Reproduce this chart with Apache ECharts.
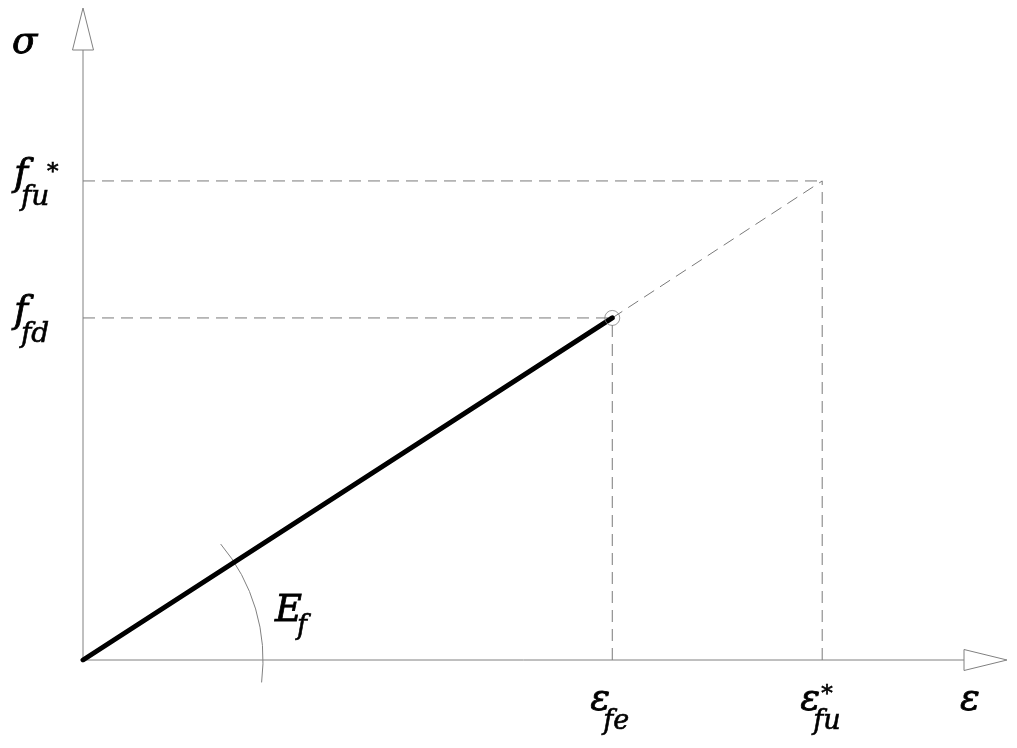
<!DOCTYPE html>
<html><head><meta charset="utf-8">
<script src="https://cdn.jsdelivr.net/npm/echarts@6/dist/echarts.min.js"></script>
<style>html,body{margin:0;padding:0;background:#fff}#c{width:1017px;height:748px}</style>
</head><body><div id="c"></div>
<script>
// ---- data (normalised: ε*_fu = 1, f*_fu = 1) ----
const strainEfe = 0.716;        // ε_fe
const strainEfu = 1.0;          // ε*_fu
const stressFfd = 0.714;        // f_fd
const stressFfu = 1.0;          // f*_fu
const axisMaxX = 1.25;          // end of ε axis (arrow tip)
const axisMaxY = 1.361;         // end of σ axis (arrow tip)
const designLine = [[0, 0], [strainEfe, stressFfd]];
const extensionLine = [[strainEfe, stressFfd], [strainEfu, stressFfu]];
const guideLines = [
  [[0, stressFfu], [strainEfu, stressFfu]],
  [[0, stressFfd], [strainEfe, stressFfd]],
  [[strainEfe, 0], [strainEfe, stressFfd]],
  [[strainEfu, 0], [strainEfu, stressFfu]]
];
const xTickLabels = [
  { at: strainEfe, main: 'ε', sub: 'fe', sup: '' },
  { at: strainEfu, main: 'ε', sub: 'fu', sup: '*' }
];
const yTickLabels = [
  { at: stressFfd, main: 'f', sub: 'fd', sup: '' },
  { at: stressFfu, main: 'f', sub: 'fu', sup: '*' }
];
const axisNames = { x: 'ε', y: 'σ' };
const slopeLabel = { main: 'E', sub: 'f' };

const FONT = "'DejaVu Serif', 'Liberation Serif', serif";
const GRAY = '#808080';
const chart = echarts.init(document.getElementById('c'), null, { renderer: 'canvas' });

// place text so that its baseline lands at y (approx.)
function txt(x, baseY, s, size, thick) {
  return { type: 'text', x: x, y: baseY - Math.round(size * 0.76), style: { text: s, fill: '#000', stroke: '#000', lineWidth: thick || 0.6, font: 'italic ' + size + 'px ' + FONT, align: 'left', verticalAlign: 'top' } };
}

chart.setOption({
  animation: false,
  grid: { left: 83, right: 10, top: 8, bottom: 88 },
  xAxis: { type: 'value', min: 0, max: axisMaxX, show: false },
  yAxis: { type: 'value', min: 0, max: axisMaxY, show: false },
  series: [
    { // dashed guides
      type: 'custom', silent: true, data: guideLines.map((g, i) => [i]),
      renderItem: function (params, api) {
        const g = guideLines[api.value(0)];
        const p1 = api.coord(g[0]), p2 = api.coord(g[1]);
        return { type: 'line', shape: { x1: p1[0], y1: p1[1], x2: p2[0], y2: p2[1] },
          style: { stroke: '#7a7a7a', lineWidth: 1, lineDash: [12, 7] } };
      }
    },
    { // dashed extension
      type: 'line', data: extensionLine, symbol: 'none', silent: true,
      lineStyle: { color: '#7a7a7a', width: 1, type: [12, 7] }
    },
    { // axes with hollow arrows
      type: 'custom', silent: true, data: [[0]],
      renderItem: function (params, api) {
        const o = api.coord([0, 0]);
        const xe = api.coord([axisMaxX, 0]);
        const ye = api.coord([0, axisMaxY]);
        const L = 43, W = 10.5;
        const st = { stroke: GRAY, lineWidth: 1, fill: 'none' };
        return { type: 'group', children: [
          { type: 'line', shape: { x1: o[0], y1: o[1], x2: xe[0] - L, y2: o[1] }, style: st },
          { type: 'polygon', shape: { points: [[xe[0] - L, o[1] - W], [xe[0], o[1]], [xe[0] - L, o[1] + W]] }, style: st },
          { type: 'line', shape: { x1: o[0], y1: o[1], x2: o[0], y2: ye[1] + L - 1 }, style: st },
          { type: 'polygon', shape: { points: [[o[0] - W, ye[1] + L - 1], [o[0], ye[1]], [o[0] + W, ye[1] + L - 1]] }, style: st },
          // angle arc for E_f
          { type: 'arc', shape: { cx: o[0], cy: o[1], r: 180, startAngle: -0.70, endAngle: 0.125, clockwise: true }, style: { stroke: GRAY, lineWidth: 1, fill: 'none' } }
        ] };
      }
    },
    { // design line
      type: 'line', data: designLine, symbol: 'none', silent: true, z: 5,
      lineStyle: { color: '#000', width: 5, cap: 'round' }
    },
    { // marker circle
      type: 'scatter', data: [designLine[1]], symbol: 'circle', symbolSize: 15, silent: true, z: 6,
      itemStyle: { color: 'rgba(0,0,0,0)', borderColor: GRAY, borderWidth: 1 }
    },
    { // labels
      type: 'custom', silent: true, data: [[0]], z: 10,
      renderItem: function (params, api) {
        const ch = [];
        const o = api.coord([0, 0]);
        const ye = api.coord([0, axisMaxY]);
        const xe = api.coord([axisMaxX, 0]);
        ch.push(txt(12, ye[1] + 45, axisNames.y, 37, 0.9));
        ch.push(txt(xe[0] - 47, o[1] + 50, axisNames.x, 37, 0.8));
        xTickLabels.forEach(l => {
          const p = api.coord([l.at, 0]);
          ch.push(txt(p[0] - 22, o[1] + 50, l.main, 37, 0.8));
          ch.push(txt(p[0] - 9, o[1] + 69, l.sub, 27));
          if (l.sup) ch.push(txt(p[0] - 1, o[1] + 41, l.sup, 23));
        });
        yTickLabels.forEach(l => {
          const p = api.coord([0, l.at]);
          ch.push(txt(p[0] - 69, p[1] + 4, l.main, 38, 0.8));
          ch.push(txt(p[0] - 62, p[1] + 24, l.sub, 28));
          if (l.sup) ch.push(txt(p[0] - 36, p[1] - 2, l.sup, 23));
        });
        ch.push(txt(o[0] + 192, o[1] - 39, slopeLabel.main, 37, 0.8));
        ch.push(txt(o[0] + 214, o[1] - 26, slopeLabel.sub, 27));
        return { type: 'group', children: ch };
      }
    }
  ]
});
</script></body></html>
